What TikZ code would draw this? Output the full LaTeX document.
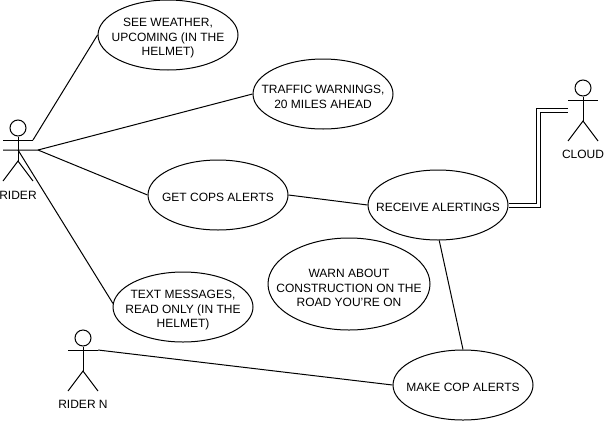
\documentclass[tikz,border=0pt]{standalone}
\usepackage{fontspec}
\setmainfont{Liberation Sans}
\usetikzlibrary{shapes.geometric}

\begin{document}
\begin{tikzpicture}[x=0.75pt, y=-0.75pt, line width=0.75pt]
\tikzset{casenoeud/.style={draw, ellipse, align=center, inner xsep=-30pt, inner ysep=-20pt, font=\fontsize{9}{11}\selectfont, minimum width=105pt, minimum height=52.5pt, execute at begin node={\rule{0pt}{#1}}}, casenoeud/.default=9.5pt}
\tikzset{nomnoeud/.style={inner sep=0pt, font=\fontsize{9}{11}\selectfont}}
\tikzset{actor/.pic={
  \node[draw, circle, inner sep=0pt, minimum size=12pt] (-head) at (0, -22) {};
  \coordinate (-hand) at (15, -10);
  \coordinate (-hip) at (0, 11);
  \draw (-head) -- (-hip);
  \draw (-15, -10) -- (-hand);
  \draw (-15, 31) -- (-hip) -- (15, 31);
}}
\useasboundingbox (0, 0) rectangle (605, 421);
\node[casenoeud=33pt] (seeweather) at (168, 35) {SEE WEATHER,\\UPCOMING (IN THE\\HELMET)};
\node[casenoeud=22pt] (traffic) at (323, 94) {TRAFFIC WARNINGS,\\20 MILES AHEAD};
\node[casenoeud] (cops) at (218, 195) {GET COPS ALERTS};
\node[casenoeud] (receive) at (438, 205) {RECEIVE ALERTINGS};
\node[casenoeud=34.5pt, minimum width=121.5pt, minimum height=69pt] (warn) at (349, 284) {WARN ABOUT\\CONSTRUCTION ON THE\\ROAD YOU'RE ON};
\node[casenoeud=33pt] (textmsg) at (183, 307) {TEXT MESSAGES,\\READ ONLY (IN THE\\HELMET)};
\node[casenoeud] (makecop) at (463, 385) {MAKE COP ALERTS};
\pic (rider) at (18, 150) {actor};
\pic (ridern) at (83, 360) {actor};
\pic (cloud) at (583, 110) {actor};
\node[nomnoeud] (ridername) at (18, 195) {RIDER};
\node[nomnoeud] (ridernname) at (83, 404) {RIDER N};
\node[nomnoeud] (cloudname) at (583, 154) {CLOUD};
\coordinate (riderhub) at (18, 150);
\coordinate (riderarm) at (38, 150);
\coordinate (riderarmleft) at (3, 150);
\coordinate (cloudgrip) at (568, 110);
\coordinate (cloudbend) at (538, 110);
\draw (rider-hand) -- (seeweather.west);
\draw (riderarmleft) -- (riderarm) -- (traffic.west);
\draw (riderarm) -- (cops.west);
\draw (riderhub) -- (textmsg.177);
\draw (ridern-hand) -- (makecop.west);
\draw (cops.east) -- (receive.west);
\draw (receive.272) -- (makecop.north);
\draw[line width=0.75pt, double, double distance=2.25pt] (receive.east) -| (cloudbend) -- (cloudgrip);
\end{tikzpicture}
\end{document}
